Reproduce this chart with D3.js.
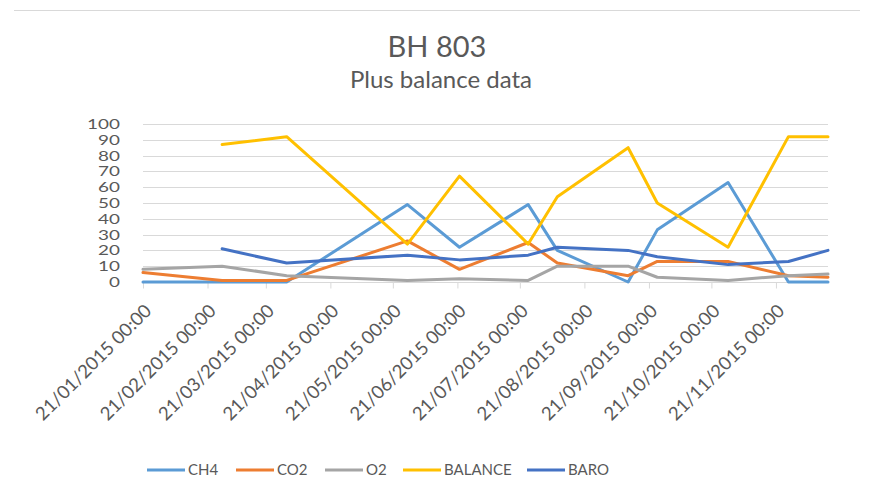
<!DOCTYPE html>
<html><head><meta charset="utf-8">
<script src="https://cdn.jsdelivr.net/npm/d3@7"></script>
<style>
body{margin:0;background:#fff;}
svg{display:block;font-family:Lato,"Open Sans",sans-serif;}
</style></head>
<body><svg id="c" width="873" height="502"></svg>
<script>
const dates = ["2015-01-21","2015-02-28","2015-03-31","2015-05-28","2015-06-22","2015-07-25","2015-08-08","2015-09-11","2015-09-25","2015-10-29","2015-11-27","2015-12-16"];
const CH4 = [0,0,0,49,22,49,20,0,33,63,0,0];
const CO2 = [6,1,1,26,8,25,12,4,13,13,4,3];
const O2 = [8,10,4,1,2,1,10,10,3,1,4,5];
const BALANCE = [null,87,92,24,67,24,54,85,50,22,92,92];
const BARO = [null,21,12,17,14,17,22,20,16,11,13,20];
const tickDates = ["2015-01-21","2015-02-21","2015-03-21","2015-04-21","2015-05-21","2015-06-21","2015-07-21","2015-08-21","2015-09-21","2015-10-21","2015-11-21"];
const tickLabels = ["21/01/2015 00:00","21/02/2015 00:00","21/03/2015 00:00","21/04/2015 00:00","21/05/2015 00:00","21/06/2015 00:00","21/07/2015 00:00","21/08/2015 00:00","21/09/2015 00:00","21/10/2015 00:00","21/11/2015 00:00"];
const yTicks = [0,10,20,30,40,50,60,70,80,90,100];
const seriesNames = ["CH4","CO2","O2","BALANCE","BARO"];
const seriesData = [CH4,CO2,O2,BALANCE,BARO];
const colors = ["#5b9bd5","#ed7d31","#a5a5a5","#ffc000","#4472c4"];

const parse = d3.utcParse("%Y-%m-%d");
const svg = d3.select("#c");
const x = d3.scaleUtc().domain([parse(dates[0]), parse(dates[dates.length-1])]).range([143, 828]);
const y = d3.scaleLinear().domain([0,100]).range([282, 124]);

// top border
svg.append("line").attr("x1",14).attr("x2",860).attr("y1",10.5).attr("y2",10.5).attr("stroke","#d9d9d9");

svg.append("text").attr("x",437).attr("y",57).attr("text-anchor","middle")
  .attr("font-size",29).attr("fill","#595959").text("BH 803");
svg.append("text").attr("x",441).attr("y",88).attr("text-anchor","middle")
  .attr("font-size",24).attr("fill","#595959").text("Plus balance data");

// gridlines
svg.append("g").selectAll("line").data(yTicks.filter(d=>d>0)).join("line")
  .attr("x1",143).attr("x2",828).attr("y1",d=>Math.round(y(d))+0.5).attr("y2",d=>Math.round(y(d))+0.5)
  .attr("stroke","#d9d9d9").attr("stroke-width",1);

// y axis labels
const ya = svg.append("g").attr("transform","translate(143,0)")
  .call(d3.axisLeft(y).tickValues(yTicks).tickSize(0).tickPadding(23));
ya.select(".domain").remove();
ya.selectAll("text").attr("font-size",14).attr("fill","#595959").attr("font-family","Lato,sans-serif")
  .attr("x",0).attr("transform","translate(-23,0) scale(1.35,1)");

// x axis
const xa = svg.append("g").attr("transform","translate(0,282.5)")
  .call(d3.axisBottom(x).tickValues(tickDates.map(parse)).tickSize(6).tickFormat((d,i)=>tickLabels[i]));
xa.select(".domain").attr("stroke","#d9d9d9").attr("d","M143,0H828");
xa.selectAll(".tick line").attr("stroke","#d9d9d9");
xa.selectAll("text").attr("font-size",18.5).attr("fill","#595959").attr("font-family","Lato,sans-serif")
  .attr("text-anchor","end").attr("x",0).attr("y",0).attr("dy","0.35em")
  .attr("transform","translate(4.5,25) rotate(-45)");

// lines
const line = d3.line().defined(d=>d[1]!==null).x(d=>x(parse(d[0]))).y(d=>y(d[1]));
seriesData.forEach((vals,i)=>{
  svg.append("path").datum(dates.map((d,j)=>[d,vals[j]]))
    .attr("d",line).attr("fill","none").attr("stroke",colors[i])
    .attr("stroke-width",3).attr("stroke-linejoin","round").attr("stroke-linecap","round");
});

// legend
const legX = [147,236,325,403,527];
const lg = svg.append("g");
seriesNames.forEach((n,i)=>{
  lg.append("line").attr("x1",legX[i]).attr("x2",legX[i]+38).attr("y1",470).attr("y2",470)
    .attr("stroke",colors[i]).attr("stroke-width",3);
  lg.append("text").attr("x",legX[i]+41).attr("y",470).attr("dy","0.35em")
    .attr("font-size",15).attr("fill","#595959").text(n);
});
</script></body></html>
